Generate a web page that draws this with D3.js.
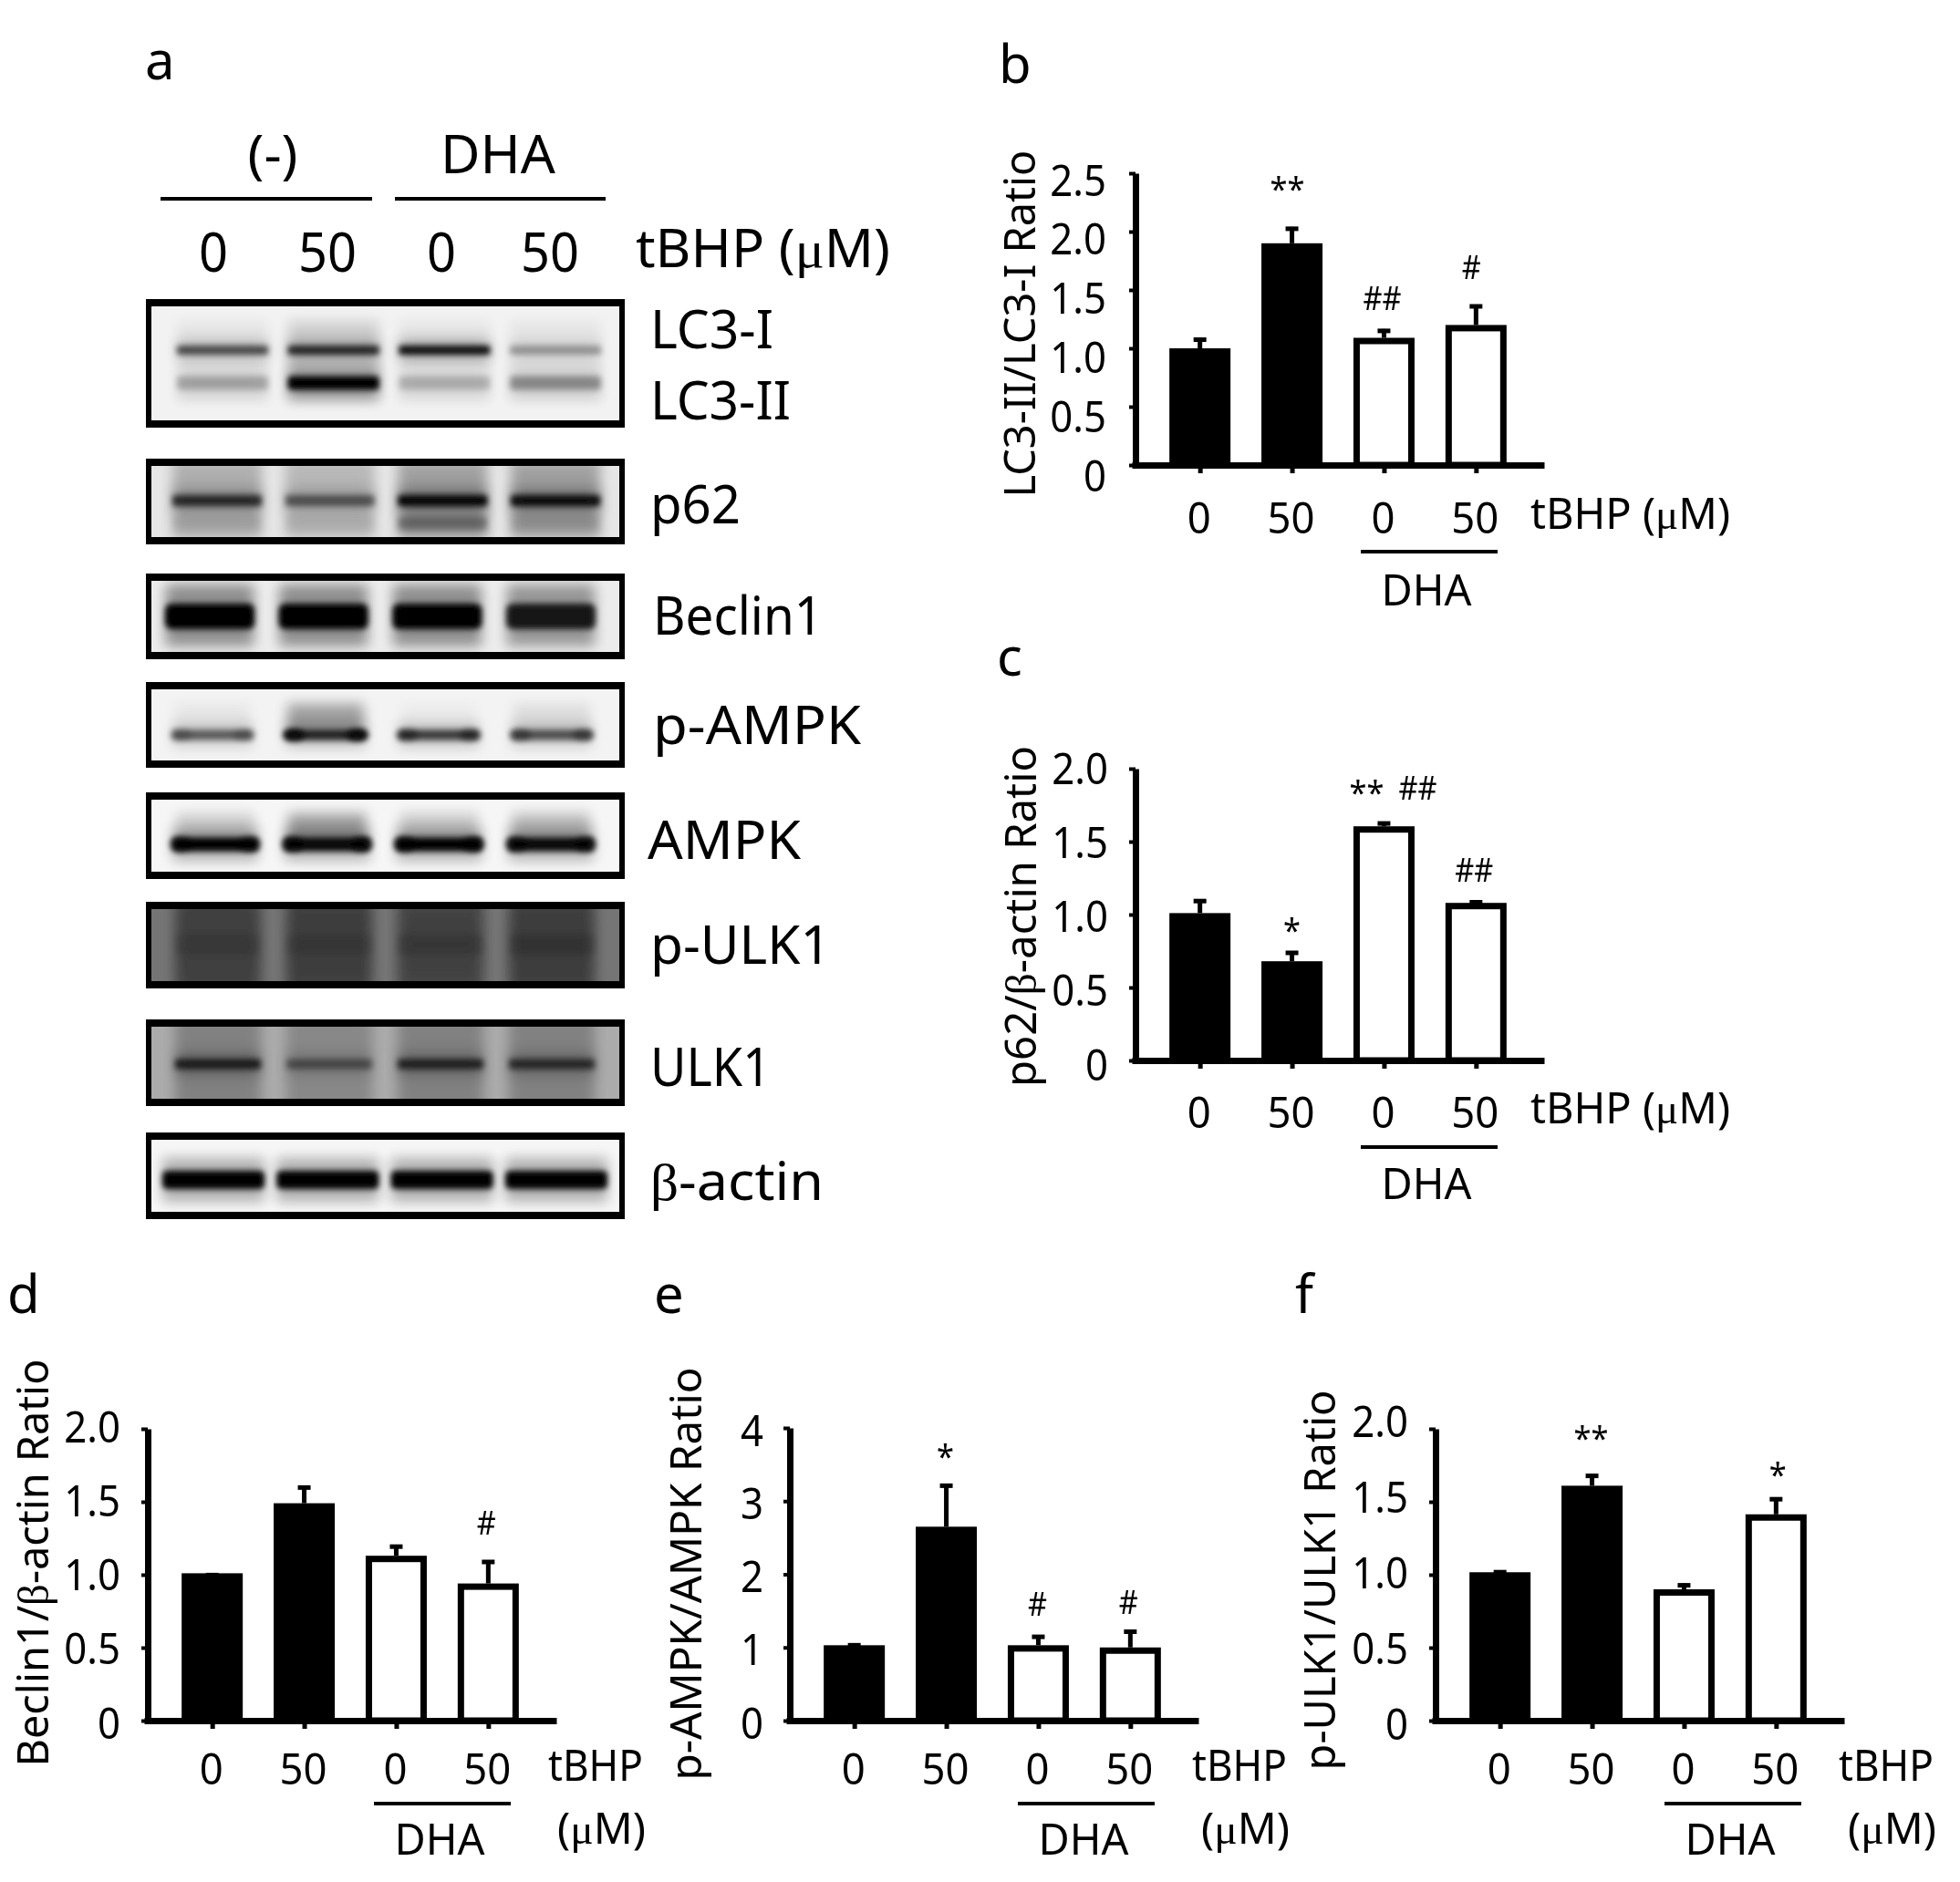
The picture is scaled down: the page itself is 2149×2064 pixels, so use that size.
<!DOCTYPE html>
<html>
<head>
<meta charset="utf-8">
<script src="https://cdn.jsdelivr.net/npm/d3@7"></script>
<style>
	html, body { margin: 0; background: #fff; }
	text { font-family: "Noto Sans", sans-serif; fill: #000; }
</style>
</head>
<body>
<div id="chart"></div>
<script>
const lanes = ['0', '50', '0 DHA', '50 DHA'];
const doses = ['0', '50', '0', '50'];

// bar panels
const lc3Values = [1.0, 1.9, 1.09, 1.2];
const lc3Errors = [1.09, 2.04, 1.165, 1.375];
const p62Values = [1.01, 0.68, 1.605, 1.08];
const p62Errors = [1.105, 0.75, 1.637, 1.097];
const beclinValues = [1.01, 1.49, 1.13, 0.94];
const beclinErrors = [1.01, 1.61, 1.205, 1.10];
const ampkValues = [1.03, 2.65, 1.03, 1.0];
const ampkErrors = [1.055, 3.235, 1.17, 1.24];
const ulkValues = [1.017, 1.61, 0.90, 1.414];
const ulkErrors = [1.03, 1.69, 0.94, 1.53];

const ticks25 = [0, 0.5, 1, 1.5, 2, 2.5];
const ticks20 = [0, 0.5, 1, 1.5, 2];
const ticks4 = [0, 1, 2, 3, 4];
const tickLabels25 = ['0', '0.5', '1.0', '1.5', '2.0', '2.5'];
const tickLabels20 = ['0', '0.5', '1.0', '1.5', '2.0'];
const tickLabels4 = ['0', '1', '2', '3', '4'];

// significance marks: text, lane index, height in axis units, nudge
const lc3Marks = ['**', '##', '#'];
const lc3MarkLanes = [1, 2, 3];
const lc3MarkValues = [2.40, 1.43, 1.70];
const lc3MarkNudge = [-5, -2, -5];
const p62Marks = ['*', '**', '##', '##'];
const p62MarkLanes = [1, 2, 2, 3];
const p62MarkValues = [0.92, 1.86, 1.87, 1.31];
const p62MarkNudge = [0, -19, 37, -2];
const beclinMarks = ['#'];
const beclinMarkLanes = [3];
const beclinMarkValues = [1.356];
const beclinMarkNudge = [-2];
const ampkMarks = ['*', '#', '#'];
const ampkMarkLanes = [1, 2, 3];
const ampkMarkValues = [3.66, 1.6, 1.63];
const ampkMarkNudge = [-1, -1, -2];
const ulkMarks = ['**', '*'];
const ulkMarkLanes = [1, 3];
const ulkMarkValues = [1.96, 1.71];
const ulkMarkNudge = [-1, 2];

// blot band strength per lane, 0 to 1
const lc3iBand = [0.62, 0.78, 0.92, 0.3];
const lc3iiBand = [0.24, 1, 0.2, 0.34];
const lc3Smear = [0.05, 0.14, 0.05, 0.05];
const p62Band = [0.72, 0.5, 0.95, 0.9];
const p62Lower = [0.06, 0.04, 0.3, 0.08];
const p62Smear = [0.24, 0.2, 0.3, 0.3];
const beclinBand = [1, 1, 1, 0.85];
const beclinSmear = [0.16, 0.16, 0.16, 0.16];
const pAmpkBand = [0.55, 0.8, 0.7, 0.6];
const pAmpkEnds = [0.2, 0.8, 0.4, 0.35];
const pAmpkSmear = [0.05, 0.34, 0.03, 0.09];
const ampkBand = [1, 0.95, 1, 0.95];
const ampkEnds = [0.5, 0.6, 0.6, 0.5];
const ampkSmear = [0.16, 0.34, 0.18, 0.24];
const pUlkSmear = [0.44, 0.46, 0.42, 0.46];
const pUlkBand = [0.1, 0.1, 0.14, 0.14];
const ulkBand = [0.75, 0.42, 0.7, 0.65];
const ulkSmear = [0.24, 0.2, 0.24, 0.24];
const actinBand = [1, 1, 1, 1];

const width = 2149;
const height = 2064;

let svg = d3.select('#chart').append('svg')
	.attr('width', width)
	.attr('height', height)
	.style('display', 'block');

let defs = svg.append('defs');
let addBlur = (id, amount) => defs.append('filter')
	.attr('id', id)
	.attr('x', '-30%').attr('y', '-150%')
	.attr('width', '160%').attr('height', '400%')
	.append('feGaussianBlur').attr('stdDeviation', amount);
addBlur('wide', 7);
addBlur('band', 3.4);
defs.append('filter')
	.attr('id', 'soft')
	.attr('filterUnits', 'userSpaceOnUse')
	.attr('x', 0).attr('y', 0)
	.attr('width', width).attr('height', height)
	.append('feGaussianBlur').attr('stdDeviation', 0.6);

let root = svg.append('g').attr('filter', 'url(#soft)');

// text squeezed to a given width, greek letters in a serif face like the figure
function label(parent, str, x, y, size, len, anchor, rotate) {
	let t = parent.append('text')
		.attr('text-anchor', anchor || 'start')
		.attr('font-size', size);
	if (rotate) {
		t.attr('transform', 'translate(' + x + ',' + y + ') rotate(-90)');
	} else {
		t.attr('x', x).attr('y', y);
	}
	str.split(/([μβ])/).filter(s => s.length).forEach(s => {
		let span = t.append('tspan').text(s);
		if (s == 'μ' || s == 'β') {
			span.style('font-family', '"Liberation Serif", serif');
		}
	});
	if (len) {
		t.attr('textLength', len).attr('lengthAdjust', 'spacingAndGlyphs');
	}
	return t;
}

function drawPanel(opts) {
	let g = root.append('g');
	let top = opts.top;
	let baseline = opts.baseline;
	let x = d3.scalePoint().domain(lanes).range([opts.left, opts.left + 452]).padding(0.74);
	let y = d3.scaleLinear().domain([0, opts.ticks[opts.ticks.length - 1]]).range([baseline, top]);
	let labelY = d3.scaleLinear().domain(y.domain()).range([opts.labelBottom, opts.labelTop]);
	let barWidth = 67;
	let border = 7;

	// error bars sit behind the bars
	let errs = g.selectAll('.err')
		.data(lanes)
		.enter()
		.append('g')
		.attr('class', 'err');
	errs.append('line')
		.attr('x1', d => x(d)).attr('x2', d => x(d))
		.attr('y1', (d, i) => y(opts.values[i]))
		.attr('y2', (d, i) => y(opts.errors[i]))
		.attr('stroke', '#000')
		.attr('stroke-width', 5);
	errs.append('line')
		.attr('x1', d => x(d) - 7).attr('x2', d => x(d) + 7)
		.attr('y1', (d, i) => y(opts.errors[i]) + 2)
		.attr('y2', (d, i) => y(opts.errors[i]) + 2)
		.attr('stroke', '#000')
		.attr('stroke-width', 5);

	g.selectAll('.bar')
		.data(lanes)
		.enter()
		.append('rect')
		.attr('class', 'bar')
		.attr('x', (d, i) => x(d) - barWidth / 2 + (i > 1 ? border / 2 : 0))
		.attr('y', (d, i) => y(opts.values[i]) + (i > 1 ? border / 2 : 0))
		.attr('width', (d, i) => i > 1 ? barWidth - border : barWidth)
		.attr('height', (d, i) => baseline - y(opts.values[i]) - (i > 1 ? border / 2 : 0))
		.attr('fill', (d, i) => i > 1 ? '#fff' : '#000')
		.attr('stroke', (d, i) => i > 1 ? '#000' : 'none')
		.attr('stroke-width', border);

	let xAxis = g.append('g')
		.attr('transform', 'translate(0,' + baseline + ')')
		.call(d3.axisBottom(x).tickSize(9).tickSizeOuter(0).tickFormat(''));
	xAxis.select('.domain').attr('stroke-width', 7).attr('stroke', '#000');
	xAxis.selectAll('line').attr('stroke-width', 5).attr('stroke', '#000');

	let yAxis = g.append('g')
		.attr('transform', 'translate(' + opts.axisX + ',0)')
		.call(d3.axisLeft(y)
			.tickValues(opts.ticks)
			.tickFormat((d, i) => opts.tickLabels[i])
			.tickSize(7)
			.tickSizeOuter(0));
	yAxis.select('.domain').attr('stroke-width', 7).attr('stroke', '#000');
	yAxis.selectAll('line').attr('stroke-width', 4).attr('stroke', '#000');
	yAxis.selectAll('text')
		.attr('font-family', null)
		.attr('font-size', 48)
		.attr('dy', null)
		.attr('x', opts.labelRight - opts.axisX)
		.attr('y', d => labelY(d) - y(d))
		.attr('text-anchor', 'end')
		.each(function () {
			d3.select(this)
				.attr('textLength', this.getComputedTextLength() * 0.91)
				.attr('lengthAdjust', 'spacingAndGlyphs');
		});

	label(g, opts.title, opts.titleX, opts.titleY, 48, opts.titleLen, 'middle', true);

	doses.forEach((d, i) => {
		label(g, d, x(lanes[i]) - 1, opts.doseY, 48, d.length * 26, 'middle');
	});

	// tBHP is on one line in the upper panels and on two in the lower ones
	if (opts.unitSplit) {
		label(g, 'tBHP', opts.unitX, opts.unitY, 47, 104);
		label(g, '(μM)', opts.unitX + 10, opts.unitY + 69, 47, 97);
	} else {
		label(g, 'tBHP (μM)', opts.unitX, opts.unitY, 47, 219);
	}

	g.append('line')
		.attr('x1', opts.dhaX1).attr('x2', opts.dhaX1 + 150)
		.attr('y1', opts.dhaLineY).attr('y2', opts.dhaLineY)
		.attr('stroke', '#000')
		.attr('stroke-width', 4);
	label(g, 'DHA', opts.dhaX1 + 72, opts.dhaY, 47, 99, 'middle');

	opts.marks.forEach((m, i) => {
		let star = m[0] == '*';
		let size = star ? 36 : 37;
		let yc = y(opts.markValues[i]) + (star ? 0.47 : 0.36) * size;
		label(g, m, x(lanes[opts.markLanes[i]]) + opts.markNudge[i], yc, size, m.length * (star ? 19 : 21), 'middle');
	});

	label(g, opts.letter, opts.letterX, opts.letterY, 58);
}

let blotCount = 0;

// one boxed blot: grey background, lane smears, then blurred bands with a halo
function drawBlot(opts) {
	let g = root.append('g');
	let x0 = 160;
	let x1 = 685;
	let inset = 6;
	let insetY = 8;
	let id = 'blot' + blotCount++;
	let blotX = d3.scalePoint().domain(lanes).range(opts.range || [238, 609]);

	defs.append('clipPath')
		.attr('id', id)
		.append('rect')
		.attr('x', x0 + inset).attr('y', opts.top + insetY)
		.attr('width', x1 - x0 - 2 * inset)
		.attr('height', opts.bottom - opts.top - 2 * insetY);

	g.append('rect')
		.attr('x', x0).attr('y', opts.top)
		.attr('width', x1 - x0)
		.attr('height', opts.bottom - opts.top)
		.attr('fill', '#000');

	let inner = g.append('g').attr('clip-path', 'url(#' + id + ')');
	inner.append('rect')
		.attr('x', x0).attr('y', opts.top)
		.attr('width', x1 - x0)
		.attr('height', opts.bottom - opts.top)
		.attr('fill', opts.background);

	(opts.smears || []).forEach(s => {
		inner.selectAll(null)
			.data(lanes)
			.enter()
			.append('rect')
			.attr('x', d => blotX(d) - s.w / 2)
			.attr('y', s.y0)
			.attr('width', s.w)
			.attr('height', s.y1 - s.y0)
			.attr('fill', '#000')
			.attr('opacity', (d, i) => s.values[i])
			.attr('filter', 'url(#wide)');
	});

	(opts.bands || []).forEach(b => {
		inner.selectAll(null)
			.data(lanes)
			.enter()
			.append('rect')
			.attr('x', d => blotX(d) - b.w / 2)
			.attr('y', b.y - b.h * 1.2)
			.attr('width', b.w)
			.attr('height', b.h * 2.4)
			.attr('fill', '#000')
			.attr('opacity', (d, i) => b.values[i] * 0.28)
			.attr('filter', 'url(#wide)');
		inner.selectAll(null)
			.data(lanes)
			.enter()
			.append('rect')
			.attr('x', d => blotX(d) - b.w / 2)
			.attr('y', b.y - b.h / 2)
			.attr('width', b.w)
			.attr('height', b.h)
			.attr('rx', b.h / 4)
			.attr('fill', '#000')
			.attr('opacity', (d, i) => b.values[i])
			.attr('filter', 'url(#band)');
		if (b.ends) {
			[-1, 1].forEach(side => {
				inner.selectAll(null)
					.data(lanes)
					.enter()
					.append('ellipse')
					.attr('cx', d => blotX(d) + side * (b.w / 2 - 9))
					.attr('cy', b.y)
					.attr('rx', 12)
					.attr('ry', b.h / 2 + 1)
					.attr('fill', '#000')
					.attr('opacity', (d, i) => b.ends[i])
					.attr('filter', 'url(#band)');
			});
		}
	});

	opts.names.forEach(n => {
		label(g, n.text, n.x, n.y, 58, n.len);
	});
}

drawBlot({
	top: 328, bottom: 469, background: '#f2f2f2',
	range: [244, 609],
	smears: [{ values: lc3Smear, y0: 352, y1: 440, w: 100 }],
	bands: [
		{ values: lc3iBand, y: 384, h: 10, w: 100 },
		{ values: lc3iiBand, y: 420, h: 15, w: 100 }
	],
	names: [{ text: 'LC3-I', x: 713, y: 382, len: 135 }, { text: 'LC3-II', x: 713, y: 460, len: 154 }]
});
drawBlot({
	top: 503, bottom: 597, background: '#e6e6e6',
	smears: [{ values: p62Smear, y0: 505, y1: 590, w: 98 }],
	bands: [
		{ values: p62Band, y: 549, h: 12, w: 98 },
		{ values: p62Lower, y: 574, h: 14, w: 98 }
	],
	names: [{ text: 'p62', x: 713, y: 574, len: 99 }]
});
drawBlot({
	top: 629, bottom: 723, background: '#ececec',
	range: [230, 604],
	smears: [{ values: beclinSmear, y0: 640, y1: 705, w: 92 }],
	bands: [{ values: beclinBand, y: 676, h: 28, w: 98 }],
	names: [{ text: 'Beclin1', x: 716, y: 696, len: 186 }]
});
drawBlot({
	top: 748, bottom: 842, background: '#f3f3f3',
	range: [233, 605],
	smears: [{ values: pAmpkSmear, y0: 772, y1: 806, w: 84 }],
	bands: [{ values: pAmpkBand, y: 806, h: 11, w: 88, ends: pAmpkEnds }],
	names: [{ text: 'p-AMPK', x: 716, y: 816, len: 228 }]
});
drawBlot({
	top: 869, bottom: 964, background: '#f6f6f6',
	range: [236, 604],
	smears: [{ values: ampkSmear, y0: 892, y1: 926, w: 86 }],
	bands: [{ values: ampkBand, y: 926, h: 15, w: 94, ends: ampkEnds }],
	names: [{ text: 'AMPK', x: 710, y: 942, len: 168 }]
});
drawBlot({
	top: 989, bottom: 1084, background: '#757575',
	range: [239, 605],
	smears: [{ values: pUlkSmear, y0: 985, y1: 1088, w: 94 }],
	bands: [{ values: pUlkBand, y: 1036, h: 22, w: 94 }],
	names: [{ text: 'p-ULK1', x: 713, y: 1057, len: 198 }]
});
drawBlot({
	top: 1118, bottom: 1213, background: '#ababab',
	range: [239, 605],
	smears: [{ values: ulkSmear, y0: 1115, y1: 1220, w: 94 }],
	bands: [{ values: ulkBand, y: 1167, h: 11, w: 94 }],
	names: [{ text: 'ULK1', x: 713, y: 1191, len: 132 }]
});
drawBlot({
	top: 1242, bottom: 1337, background: '#f6f6f6',
	range: [234, 610],
	bands: [{ values: actinBand, y: 1294, h: 20, w: 112 }],
	names: [{ text: 'β-actin', x: 713, y: 1316, len: 190 }]
});

// header of the blot panel
let head = root.append('g');
label(head, 'a', 159, 87, 58);
label(head, '(-)', 299, 190, 58, 55, 'middle');
label(head, 'DHA', 546, 190, 58, 126, 'middle');
[[176, 408], [433, 664]].forEach(r => {
	head.append('line')
		.attr('x1', r[0]).attr('x2', r[1])
		.attr('y1', 218).attr('y2', 218)
		.attr('stroke', '#000')
		.attr('stroke-width', 4);
});
doses.forEach((d, i) => {
	label(head, d, [234, 359, 484, 603][i], 298, 60, d.length * 32, 'middle');
});
label(head, 'tBHP (μM)', 697, 293, 58, 279);

drawPanel({
	letter: 'b', letterX: 1095, letterY: 91,
	values: lc3Values, errors: lc3Errors,
	ticks: ticks25, tickLabels: tickLabels25,
	left: 1241, axisX: 1245, top: 190, baseline: 510,
	labelBottom: 538, labelTop: 214, labelRight: 1213,
	title: 'LC3-II/LC3-I Ratio', titleX: 1135, titleY: 355, titleLen: 381,
	doseY: 585, unitX: 1678, unitY: 580,
	dhaX1: 1492, dhaLineY: 605, dhaY: 664,
	marks: lc3Marks, markLanes: lc3MarkLanes, markValues: lc3MarkValues, markNudge: lc3MarkNudge
});
drawPanel({
	letter: 'c', letterX: 1093, letterY: 741,
	values: p62Values, errors: p62Errors,
	ticks: ticks20, tickLabels: tickLabels20,
	left: 1241, axisX: 1245, top: 843, baseline: 1163,
	labelBottom: 1184, labelTop: 859, labelRight: 1215,
	title: 'p62/β-actin Ratio', titleX: 1136, titleY: 1005, titleLen: 374,
	doseY: 1237, unitX: 1678, unitY: 1232,
	dhaX1: 1492, dhaLineY: 1258, dhaY: 1315,
	marks: p62Marks, markLanes: p62MarkLanes, markValues: p62MarkValues, markNudge: p62MarkNudge
});
drawPanel({
	letter: 'd', letterX: 8, letterY: 1440,
	values: beclinValues, errors: beclinErrors,
	ticks: ticks20, tickLabels: tickLabels20,
	left: 158, axisX: 162, top: 1567, baseline: 1887,
	labelBottom: 1906, labelTop: 1581, labelRight: 132,
	title: 'Beclin1/β-actin Ratio', titleX: 53, titleY: 1714, titleLen: 447,
	doseY: 1957, unitX: 601, unitY: 1953, unitSplit: true,
	dhaX1: 410, dhaLineY: 1978, dhaY: 2034,
	marks: beclinMarks, markLanes: beclinMarkLanes, markValues: beclinMarkValues, markNudge: beclinMarkNudge
});
drawPanel({
	letter: 'e', letterX: 717, letterY: 1440,
	values: ampkValues, errors: ampkErrors,
	ticks: ticks4, tickLabels: tickLabels4,
	left: 862, axisX: 866, top: 1566, baseline: 1887,
	labelBottom: 1906, labelTop: 1585, labelRight: 837,
	title: 'p-AMPK/AMPK Ratio', titleX: 769, titleY: 1726, titleLen: 453,
	doseY: 1957, unitX: 1307, unitY: 1953, unitSplit: true,
	dhaX1: 1116, dhaLineY: 1978, dhaY: 2034,
	marks: ampkMarks, markLanes: ampkMarkLanes, markValues: ampkMarkValues, markNudge: ampkMarkNudge
});
drawPanel({
	letter: 'f', letterX: 1420, letterY: 1440,
	values: ulkValues, errors: ulkErrors,
	ticks: ticks20, tickLabels: tickLabels20,
	left: 1570, axisX: 1574, top: 1567, baseline: 1887,
	labelBottom: 1907, labelTop: 1575, labelRight: 1544,
	title: 'p-ULK1/ULK1 Ratio', titleX: 1464, titleY: 1733, titleLen: 417,
	doseY: 1957, unitX: 2016, unitY: 1953, unitSplit: true,
	dhaX1: 1825, dhaLineY: 1978, dhaY: 2034,
	marks: ulkMarks, markLanes: ulkMarkLanes, markValues: ulkMarkValues, markNudge: ulkMarkNudge
});
</script>
</body>
</html>
